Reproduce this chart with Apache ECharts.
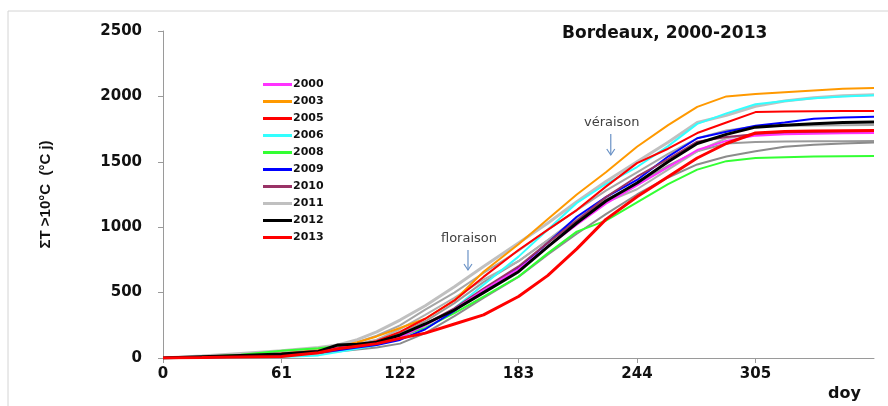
<!DOCTYPE html>
<html>
<head>
<meta charset="utf-8">
<script src="https://cdn.jsdelivr.net/npm/echarts@6/dist/echarts.min.js"></script>
<style>
html,body{margin:0;padding:0;background:#fff;}
#c{width:888px;height:406px;}
</style>
</head>
<body>
<div id="c"></div>
<script>
// ---- data (day of year, cumulated degree-days) ----
var days = [0,20,40,61,80,90,100,110,122,135,150,165,183,198,213,228,244,260,275,290,305,320,335,350,366];
var xTicks = [0,61,122,183,244,305];
var yTicks = [0,500,1000,1500,2000,2500];

var y2000 = [0,5,15,30,50,75,95,115,160,250,370,520,680,850,1020,1180,1320,1460,1590,1660,1700,1710,1715,1718,1720];
var y2003 = [0,8,18,35,60,85,120,165,229,300,440,660,870,1060,1250,1420,1615,1780,1920,2000,2018,2032,2045,2058,2064];
var y2005 = [0,5,12,25,45,70,95,130,200,300,440,620,826,980,1131,1310,1490,1600,1720,1800,1880,1885,1887,1888,1889];
var y2006 = [0,2,5,8,20,45,70,100,150,250,380,560,775,980,1185,1330,1460,1620,1790,1870,1940,1965,1985,2000,2008];
var y2008 = [0,10,25,55,75,90,100,120,165,230,344,470,622,800,966,1050,1190,1330,1440,1505,1529,1535,1540,1543,1544];
var y2009 = [0,4,10,22,40,60,80,100,138,220,360,520,688,880,1080,1230,1361,1540,1680,1730,1775,1800,1830,1838,1845];
var y2010 = [0,5,14,30,55,80,100,120,170,260,380,530,700,880,1050,1230,1386,1520,1654,1690,1710,1718,1722,1724,1725];
var y2011 = [0,15,35,55,80,100,140,200,290,400,545,700,880,1030,1195,1350,1500,1650,1800,1855,1925,1965,1990,2005,2012];
var y2012 = [0,10,20,30,50,100,105,120,176,260,367,500,660,850,1032,1200,1338,1500,1640,1710,1765,1780,1790,1800,1804];
var y2013 = [0,3,8,12,40,70,90,110,150,190,260,330,470,630,834,1060,1233,1386,1529,1640,1720,1732,1735,1738,1740];
// other years (grey, not in legend)
var y2001 = [0,12,30,50,75,95,120,170,250,370,500,650,820,980,1130,1280,1420,1560,1680,1740,1770,1776,1778,1780,1781];
var y2002 = [0,8,20,40,60,80,100,130,190,280,420,580,740,900,1060,1210,1330,1470,1580,1640,1652,1655,1657,1658,1659];
var y2004 = [0,5,10,20,35,50,65,80,110,190,320,460,620,790,950,1100,1250,1380,1480,1540,1580,1615,1630,1640,1648];
var y2007 = [0,10,25,45,70,90,110,140,220,330,460,600,740,900,1070,1190,1290,1440,1580,1680,1715,1722,1726,1728,1730];

var legendYears = ['2000','2003','2005','2006','2008','2009','2010','2011','2012','2013'];

function pairs(v){ return days.map(function(d,i){ return [d, v[i]]; }); }
function mk(name, v, color, width, z){
  return {name:name, type:'line', data:pairs(v), showSymbol:false, symbol:'none',
    lineStyle:{color:color, width:width}, itemStyle:{color:color}, z:z||2, animation:false};
}

var series = [
  mk('2001', y2001, '#a6a6a6', 2, 1),
  mk('2002', y2002, '#9a9a9a', 2, 1),
  mk('2004', y2004, '#8c8c8c', 2, 1),
  mk('2007', y2007, '#b0b0b0', 2, 1),
  mk('2011', y2011, '#c0c0c0', 3, 2),
  mk('2003', y2003, '#ff9900', 2, 3),
  mk('2006', y2006, '#33ffff', 2, 3),
  mk('2005', y2005, '#ff0000', 2, 3),
  mk('2008', y2008, '#33ff33', 2, 3),
  mk('2009', y2009, '#0000ff', 2, 3),
  mk('2010', y2010, '#993366', 2, 3),
  mk('2000', y2000, '#ff33ff', 2, 3),
  mk('2012', y2012, '#000000', 3, 4),
  mk('2013', y2013, '#ff0000', 3, 4)
];

var chart = echarts.init(document.getElementById('c'), null, {renderer:'canvas'});
var wideBold = 'DejaVu Sans, sans-serif';
chart.setOption({
  backgroundColor:'#ffffff',
  animation:false,
  title:{text:'Bordeaux, 2000-2013', left:557, top:20,
    textStyle:{fontFamily:wideBold, fontWeight:'bold', fontSize:17, color:'#111'}},
  legend:{data:legendYears, orient:'vertical', left:258, top:74, itemGap:6,
    itemWidth:29, itemHeight:3, icon:'rect',
    textStyle:{fontFamily:wideBold, fontWeight:'bold', fontSize:11, color:'#111', padding:[0,0,0,-4]}},
  grid:{left:163, right:14, top:31, bottom:48, containLabel:false},
  xAxis:{type:'value', min:0, max:366, interval:61,
    axisLine:{lineStyle:{color:'#9a9a9a', width:1}},
    axisTick:{show:true, length:5, lineStyle:{color:'#9a9a9a'}},
    axisLabel:{showMaxLabel:false, margin:9, fontFamily:wideBold, fontWeight:'bold', fontSize:15, color:'#111',
      formatter:function(v){ return String(v); }},
    splitLine:{show:false}},
  yAxis:{type:'value', min:0, max:2500, interval:500,
    name:'\u03a3T >10\u00b0C  (\u00b0C j)', nameLocation:'middle', nameGap:110, nameRotate:90,
    nameTextStyle:{fontFamily:'Liberation Sans, Arial, sans-serif', fontWeight:'bold', fontSize:15, color:'#111'},
    axisLine:{show:true, lineStyle:{color:'#9a9a9a', width:1}},
    axisTick:{show:true, length:5, lineStyle:{color:'#9a9a9a'}},
    axisLabel:{margin:21, fontFamily:wideBold, fontWeight:'bold', fontSize:15, color:'#111',
      formatter:function(v){ return String(v); }},
    splitLine:{show:false}},
  series:series
});

// annotations anchored in data coordinates
var notes = [
  {text:'floraison', day:157, top:826, bottom:673},
  {text:'v\u00e9raison', day:230.5, top:1712, bottom:1552}
];
var g = [
  {type:'line', shape:{x1:8,y1:11,x2:888,y2:11}, style:{stroke:'#d4d4d4', lineWidth:1}},
  {type:'line', shape:{x1:8,y1:11,x2:8,y2:406}, style:{stroke:'#d4d4d4', lineWidth:1}},
  {type:'text', left:828, top:386, style:{text:'doy', font:'bold 16px DejaVu Sans, sans-serif', fill:'#111'}}
];
notes.forEach(function(n){
  var p1 = chart.convertToPixel({gridIndex:0}, [n.day, n.top]);
  var p2 = chart.convertToPixel({gridIndex:0}, [n.day, n.bottom]);
  g.push({type:'text', x:p1[0]+1, y:p1[1]-18, style:{text:n.text, font:'13px DejaVu Sans, sans-serif', fill:'#404040', align:'center'}});
  g.push({type:'line', shape:{x1:p1[0],y1:p1[1],x2:p2[0],y2:p2[1]}, style:{stroke:'#6a92c6', lineWidth:1.2}});
  g.push({type:'polyline', shape:{points:[[p2[0]-4,p2[1]-6],[p2[0],p2[1]],[p2[0]+4,p2[1]-6]]}, style:{stroke:'#6a92c6', lineWidth:1.2, fill:null}});
});
chart.setOption({graphic:g});
</script>
</body>
</html>
